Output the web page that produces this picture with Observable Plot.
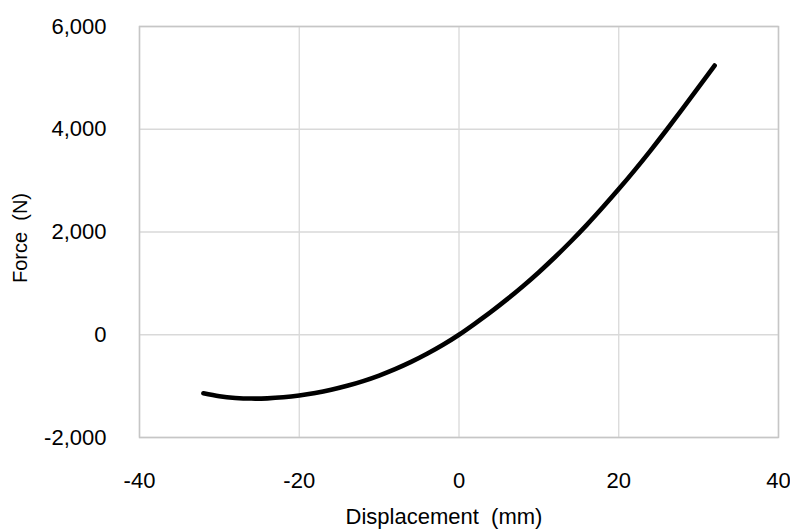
<!DOCTYPE html>
<html>
<head>
<meta charset="utf-8">
<script src="https://cdn.jsdelivr.net/npm/d3@7"></script>
<script src="https://cdn.jsdelivr.net/npm/@observablehq/plot@0.6"></script>
<style>
  html, body { margin: 0; padding: 0; background: #fff; }
</style>
</head>
<body>
<div id="chart"></div>
<script>
const displacement = [-32, -30, -28, -26, -24, -22, -20, -18, -16, -14, -12, -10, -8, -6, -4, -2, 0, 2, 4, 6, 8, 10, 12, 14, 16, 18, 20, 22, 24, 26, 28, 30, 32];
const force = [-1140, -1198, -1230, -1242, -1238, -1218, -1183, -1134, -1071, -994, -902, -794, -670, -529, -371, -195, 0, 218, 445, 688, 945, 1218, 1508, 1815, 2138, 2480, 2835, 3205, 3590, 3990, 4400, 4818, 5240];
const xTicks = [-40, -20, 0, 20, 40];
const yTicks = [-2000, 0, 2000, 4000, 6000];
const xTitle = "Displacement  (mm)";
const yTitle = "Force  (N)";

const data = displacement.map((d, i) => ({x: d, y: force[i]}));
const hyphen = s => s.replace("\u2212", "-");

const chart = Plot.plot({
  width: 790,
  height: 530,
  marginLeft: 139,
  marginRight: 12,
  marginTop: 26,
  marginBottom: 93,
  style: {fontFamily: "'Liberation Sans', Arial, sans-serif", fontSize: "22px", color: "#000", background: "#fff"},
  x: {domain: [-40, 40]},
  y: {domain: [-2000, 6000]},
  marks: [
    Plot.gridX(xTicks, {stroke: "#d9d9d9", strokeOpacity: 1, strokeWidth: 1.3}),
    Plot.gridY(yTicks, {stroke: "#d9d9d9", strokeOpacity: 1, strokeWidth: 1.3}),
    Plot.frame({stroke: "#c6c6c6", strokeWidth: 1.5}),
    Plot.line(data, {x: "x", y: "y", stroke: "#000", strokeWidth: 4.6, curve: "natural", strokeLinecap: "round"}),
    Plot.axisX(xTicks, {tickSize: 0, tickPadding: 35, label: null, tickFormat: d => String(d), fill: "#000"}),
    Plot.axisY(yTicks, {tickSize: 0, tickPadding: 33, label: null, tickFormat: d => hyphen(d3.format(",")(d)), fill: "#000"}),
    Plot.text([xTitle], {frameAnchor: "bottom", textAnchor: "middle", dx: -15, dy: 86, fill: "#000"}),
    Plot.text([yTitle], {frameAnchor: "left", textAnchor: "middle", dx: -119, dy: 6, rotate: -90, fill: "#000", fontSize: 20})
  ]
});
document.getElementById("chart").appendChild(chart);
</script>
</body>
</html>
